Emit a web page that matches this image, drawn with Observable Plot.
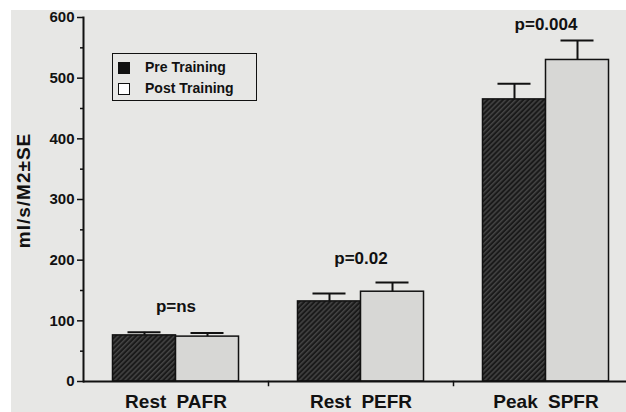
<!DOCTYPE html>
<html>
<head>
<meta charset="utf-8">
<script src="https://cdn.jsdelivr.net/npm/d3@7"></script>
<script src="https://cdn.jsdelivr.net/npm/@observablehq/plot@0.6"></script>
<style>
  html, body { margin: 0; padding: 0; background: #ffffff; }
  #wrap { position: relative; width: 626px; height: 412px; overflow: hidden; background: #ffffff; font-family: "Liberation Sans", Arial, sans-serif; }
  #paper { position: absolute; left: 11px; top: 10px; right: 0; bottom: 0; background: #e7e7e5; }
  #chart { position: absolute; left: 0; top: 0; }
  #chart svg g[aria-label="fx-axis tick label"] text { word-spacing: 5px; }
  #chart svg g.ylab text { letter-spacing: 1px; }
  #legend { position: absolute; left: 112px; top: 53px; width: 143px; height: 46px; border: 1.6px solid #111; color: #111; font-weight: bold; font-size: 14px; }
  .item { position: absolute; left: 5px; height: 14px; white-space: nowrap; }
  .sw { position: absolute; left: 0; top: 1px; width: 12px; height: 12px; box-sizing: border-box; border: 1.5px solid #111; }
  .lab { position: absolute; left: 27px; top: -2px; line-height: 16px; }
</style>
</head>
<body>
<div id="wrap">
  <div id="paper"></div>
  <div id="chart"></div>
  <div id="legend"></div>
</div>
<script>
const groups = ["Rest PAFR", "Rest PEFR", "Peak SPFR"];
const series = ["Pre Training", "Post Training"];
const preValues = [76, 132, 465];
const preSE = [5, 13, 26];
const postValues = [74, 148, 530];
const postSE = [6, 15, 32];
const pLabels = ["p=ns", "p=0.02", "p=0.004"];
const pLabelY = [124, 203, 588];
const yTicks = [0, 100, 200, 300, 400, 500, 600];
const yMinorTicks = [50, 150, 250, 350, 450, 550];
const yLabel = "ml/s/M2\u00B1SE";

const rows = groups.flatMap((g, i) => [
  {group: g, series: series[0], value: preValues[i], se: preSE[i]},
  {group: g, series: series[1], value: postValues[i], se: postSE[i]}
]);
const pRows = groups.map((g, i) => ({group: g, label: pLabels[i], y: pLabelY[i]}));

const ink = "#111";

const svg = Plot.plot({
  width: 626,
  height: 412,
  marginLeft: 83,
  marginRight: -12,
  marginTop: 17,
  marginBottom: 31,
  style: {background: "transparent", fontFamily: "'Liberation Sans', Arial, sans-serif", fontWeight: "bold", fontSize: "14px", color: ink, overflow: "visible"},
  fx: {domain: groups, padding: 0, round: false, label: null, axis: null},
  x: {domain: series, paddingInner: 0, paddingOuter: 0.468, round: false, axis: null},
  y: {domain: [0, 600], axis: null},
  color: {domain: series, range: ["url(#hatch)", "#d7d7d5"]},
  marks: [
    Plot.barY(rows, {fx: "group", x: "series", y: "value", fill: "series", stroke: ink, strokeWidth: 1.5}),
    Plot.ruleX(rows, {fx: "group", x: "series", y1: "value", y2: d => d.value + d.se, stroke: ink, strokeWidth: 2}),
    Plot.tickY(rows, {fx: "group", x: "series", y: d => d.value + d.se, stroke: ink, strokeWidth: 2, insetLeft: 15, insetRight: 15}),
    Plot.text(pRows, {fx: "group", y: "y", text: "label", fontSize: 17, fontWeight: "bold", fill: ink}),
    Plot.ruleY([0], {stroke: ink, strokeWidth: 2}),
    Plot.frame({anchor: "right", insetTop: 364, insetBottom: -4, stroke: ink, strokeWidth: 1.5}),
    Plot.frame({anchor: "left", facet: "super", stroke: ink, strokeWidth: 2}),
    Plot.axisY({ticks: yTicks, tickSize: 6, text: null, label: null, strokeWidth: 1.5}),
    Plot.axisY({ticks: yMinorTicks, tickSize: 3, text: null, label: null, strokeWidth: 1.5}),
    Plot.text(yTicks, {fx: () => groups[0], y: d => d, text: d => String(d), frameAnchor: "left", textAnchor: "end", dx: -9, fontSize: 15, fontWeight: "bold", fill: ink}),
    Plot.text([yLabel], {facet: "super", text: d => d, frameAnchor: "left", textAnchor: "middle", dx: -60, dy: -9, rotate: -90, fontSize: 19, fontWeight: "bold", fill: ink, className: "ylab"}),
    Plot.axisFx({anchor: "bottom", tickSize: 0, tickPadding: 13, fontSize: 19, fontWeight: "bold", label: null})
  ]
});

svg.insertAdjacentHTML("afterbegin",
  '<defs><pattern id="hatch" patternUnits="userSpaceOnUse" width="3.6" height="3.6" patternTransform="rotate(45)">' +
  '<rect width="3.6" height="3.6" fill="#1a1a1a"/>' +
  '<line x1="0.8" y1="0" x2="0.8" y2="3.6" stroke="#5a5a5a" stroke-width="1"/>' +
  '</pattern></defs>');

document.getElementById("chart").appendChild(svg);

const legend = document.getElementById("legend");
const swatchFill = ["#111", "#ffffff"];
series.forEach((s, i) => {
  const item = document.createElement("div");
  item.className = "item";
  item.style.top = (7 + i * 21) + "px";
  const sw = document.createElement("div");
  sw.className = "sw";
  sw.style.background = swatchFill[i];
  const lab = document.createElement("div");
  lab.className = "lab";
  lab.textContent = s;
  item.appendChild(sw);
  item.appendChild(lab);
  legend.appendChild(item);
});
</script>
</body>
</html>
